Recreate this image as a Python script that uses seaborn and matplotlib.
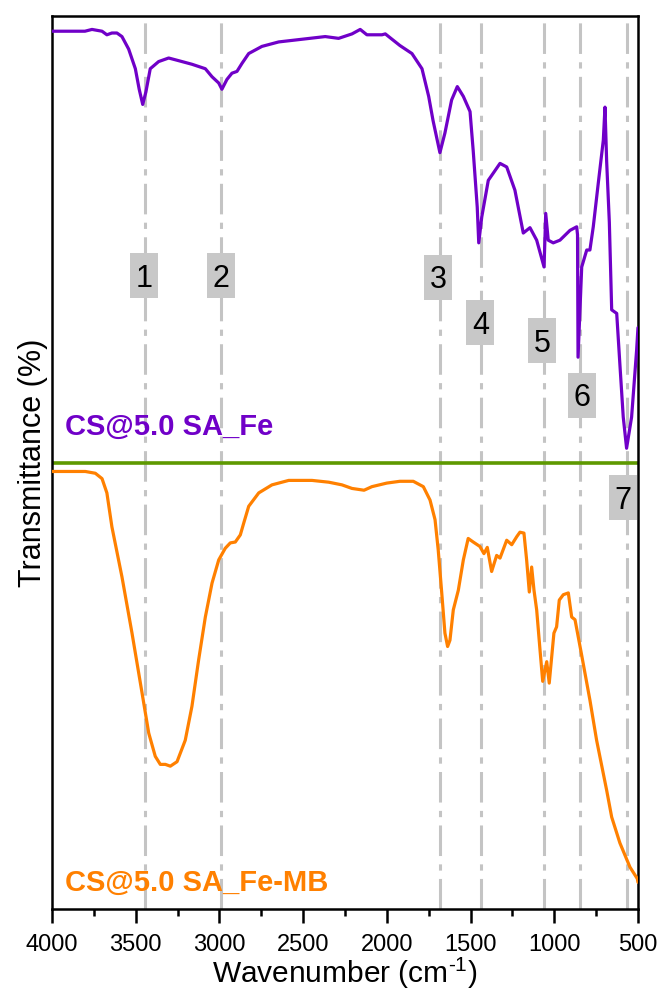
import matplotlib
matplotlib.use("Agg")
import matplotlib.pyplot as plt
from matplotlib.ticker import MultipleLocator
import numpy as np
import pandas as pd
import seaborn as sns

# ---------------- data ----------------
fe_wn = [4000, 3803, 3761, 3701, 3672, 3642, 3612, 3582, 3542, 3502, 3479, 3458,
         3439, 3413, 3363, 3303, 3243, 3164, 3084, 3044, 3004, 2985, 2955, 2925,
         2895, 2865, 2825, 2746, 2646, 2507, 2368, 2288, 2208, 2159, 2119, 2029,
         2009, 1969, 1922, 1850, 1790, 1750, 1724, 1683, 1653, 1613, 1579, 1543,
         1503, 1484, 1460, 1451, 1433, 1394, 1324, 1284, 1235, 1185, 1145, 1105,
         1061, 1051, 1036, 1006, 966, 906, 866, 861, 858, 836, 806, 787, 767,
         737, 707, 697, 687, 671, 657, 627, 607, 588, 568, 538, 508, 500]
fe_t = [98.3, 98.3, 98.5, 98.3, 97.9, 98.1, 98.1, 97.7, 96.3, 94.1, 91.8, 90.1,
        91.5, 94.1, 94.9, 95.3, 95.0, 94.6, 94.1, 93.2, 92.5, 91.8, 92.9, 93.6,
        93.8, 94.7, 95.8, 96.6, 97.1, 97.4, 97.7, 97.5, 98.0, 98.5, 97.9, 97.9,
        98.0, 97.4, 96.7, 95.8, 94.1, 91.0, 88.3, 84.7, 86.9, 90.6, 92.1, 91.0,
        89.3, 84.9, 78.6, 74.6, 77.5, 81.6, 83.5, 83.1, 80.5, 75.7, 76.3, 74.9,
        71.9, 77.9, 74.9, 74.6, 74.9, 76.0, 76.4, 75.5, 61.8, 71.9, 73.8, 73.8, 76.4,
        81.3, 86.1, 89.8, 83.7, 76.9, 67.1, 66.7, 60.7, 55.1, 51.6, 55.1, 62.6, 65.1]

mb_wn = [4000, 3801, 3741, 3701, 3672, 3642, 3582, 3522, 3462, 3422, 3383, 3353,
         3323, 3293, 3253, 3204, 3164, 3124, 3084, 3044, 3004, 2965, 2935, 2905,
         2875, 2855, 2825, 2765, 2686, 2586, 2447, 2347, 2268, 2208, 2136, 2089,
         2000, 1922, 1842, 1782, 1742, 1712, 1693, 1672, 1653, 1637, 1623, 1603,
         1573, 1543, 1514, 1484, 1444, 1420, 1400, 1374, 1344, 1324, 1284, 1254,
         1224, 1205, 1181, 1165, 1149, 1135, 1121, 1105, 1085, 1069, 1045, 1030,
         1002, 986, 970, 946, 916, 896, 876, 836, 787, 747, 687, 657, 608, 548,
         504, 500]
mb_t = [49.0, 49.0, 48.8, 48.2, 46.6, 42.8, 37.2, 30.9, 24.2, 19.7, 17.1, 16.2,
        16.2, 16.0, 16.5, 18.9, 22.7, 27.9, 32.7, 36.5, 39.1, 40.4, 41.0, 41.1,
        41.9, 43.2, 45.1, 46.6, 47.5, 48.0, 48.0, 47.8, 47.5, 47.1, 46.9, 47.3,
        47.7, 47.9, 47.9, 47.3, 45.8, 43.6, 40.2, 35.4, 30.9, 29.4, 30.1, 33.5,
        35.7, 39.1, 41.5, 41.1, 40.6, 39.8, 40.5, 37.8, 39.6, 39.3, 41.3, 40.8,
        41.7, 42.2, 42.1, 39.1, 35.5, 38.3, 35.7, 33.5, 29.0, 25.5, 27.7, 25.3,
        30.9, 31.6, 34.6, 35.2, 35.4, 32.7, 32.4, 28.4, 23.4, 18.9, 13.3, 10.3,
        7.4, 4.7, 3.4, 3.0]

band_labels = ["1", "2", "3", "4", "5", "6", "7"]
band_wn = [3445, 2988, 1680, 1440, 1062, 845, 565]
label_y = [71.0, 71.0, 70.8, 65.7, 63.7, 57.6, 46.1]
label_wn = [3450, 2992, 1693, 1441, 1074, 833, 588]

divider_y = 50.0
series_names = ["CS@5.0 SA_Fe", "CS@5.0 SA_Fe-MB"]
xticks = [4000, 3500, 3000, 2500, 2000, 1500, 1000, 500]

purple = "#7000C8"
orange = "#FF8000"
green = "#5E9900"

# ---------------- figure ----------------
sns.set_style("white")
plt.rcParams["font.family"] = ["Liberation Sans", "DejaVu Sans"]
plt.rcParams["lines.scale_dashes"] = False
plt.rcParams["mathtext.fontset"] = "custom"
plt.rcParams["mathtext.rm"] = "Liberation Sans"
plt.rcParams["mathtext.it"] = "Liberation Sans:italic"
plt.rcParams["mathtext.bf"] = "Liberation Sans:bold"
plt.rcParams["text.color"] = "black"
plt.rcParams["axes.labelcolor"] = "black"
plt.rcParams["xtick.color"] = "black"

fig = plt.figure(figsize=(6.62, 9.96), dpi=100)
ax = fig.add_axes([0.0785, 0.0873, 0.8852, 0.8966])

df = pd.concat([
    pd.DataFrame({"wn": fe_wn, "T": fe_t, "sample": series_names[0]}),
    pd.DataFrame({"wn": mb_wn, "T": mb_t, "sample": series_names[1]}),
])

# band guide lines
for wn in band_wn:
    ax.axvline(wn, color="#C4C4C4", lw=2.2, zorder=1,
               linestyle=(0, (22, 6, 4.5, 6)))

sns.lineplot(data=df, x="wn", y="T", hue="sample",
             palette={series_names[0]: purple, series_names[1]: orange},
             sort=False, estimator=None, lw=2.3, legend=False, ax=ax, zorder=3)

ax.axhline(divider_y, color=green, lw=2.6, zorder=2)

# gray label boxes (rectangular markers, 28 x 45 px) with numbers
box_marker = [(-14, -22.5), (14, -22.5), (14, 22.5), (-14, 22.5), (-14, -22.5)]
ax.plot(label_wn, label_y, linestyle="none", marker=box_marker,
        markersize=32.4, markerfacecolor="#C8C8C8", markeredgewidth=0, zorder=4)
for lab, x, y in zip(band_labels, label_wn, label_y):
    ax.text(x, y, lab, fontsize=22, ha="center", va="center_baseline",
            color="black", zorder=5)

ax.text(0.022, 0.540, series_names[0], transform=ax.transAxes, fontsize=21,
        fontweight="bold", color=purple, ha="left", va="center", zorder=5)
ax.text(0.022, 0.029, series_names[1], transform=ax.transAxes, fontsize=21,
        fontweight="bold", color=orange, ha="left", va="center", zorder=5)

ax.set_xlim(4000, 500)
ax.set_ylim(0, 100)
ax.set_xticks(xticks)
ax.set_xticklabels([str(t) for t in xticks])
ax.xaxis.set_minor_locator(MultipleLocator(250))
ax.set_yticks([])
ax.tick_params(axis="x", which="major", direction="out", length=10, width=1.8,
               labelsize=17, pad=8, colors="black", bottom=True)
ax.tick_params(axis="x", which="minor", direction="out", length=5, width=1.8,
               bottom=True)
for s in ax.spines.values():
    s.set_color("black")
    s.set_linewidth(1.8)

ax.set_xlabel("Wavenumber (cm$^{\\mathregular{\u20101}}$)", fontsize=21.5, labelpad=0)
ax.set_ylabel("Transmittance (%)", fontsize=22, labelpad=3)

fig.savefig("out.png", dpi=100)
